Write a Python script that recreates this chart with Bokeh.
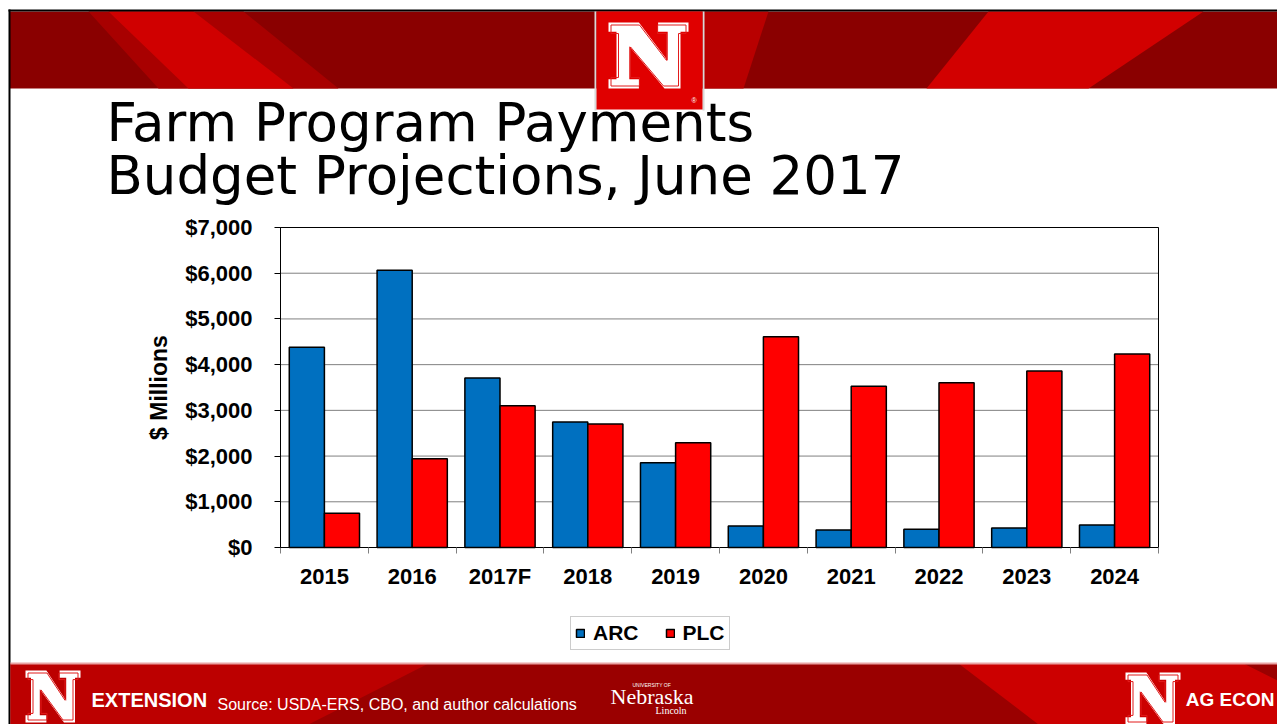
from bokeh.plotting import figure
from bokeh.models import (Range1d, LinearAxis, FixedTicker, SingleIntervalTicker,
                          NumeralTickFormatter, Legend, LegendItem, ColumnDataSource)
from bokeh.core.properties import value
from bokeh.transform import dodge
from bokeh.embed import file_html
from bokeh.resources import INLINE

# ---------------- data ----------------
years = ["2015", "2016", "2017F", "2018", "2019", "2020", "2021", "2022", "2023", "2024"]
arc = [4380, 6065, 3710, 2745, 1855, 470, 385, 400, 425, 490]
plc = [750, 1940, 3100, 2700, 2290, 4610, 3530, 3605, 3860, 4235]
series = ["ARC", "PLC"]
series_colors = ["#0070C0", "#FF0000"]
y_max = 7000
y_step = 1000
title_lines = ["Farm Program Payments", "Budget Projections, June 2017"]
y_label = "$ Millions"
source_note = "Source: USDA-ERS, CBO, and author calculations"

# ---------------- layout (pixels on the canvas) ----------------
W, H = 1277, 724
FL, FR, FT, FB = 280, 1158, 227, 547   # chart area edges
n_cat = len(years)
kx = (FR - FL) / n_cat
ky = (FB - FT) / y_max
CHART_FONT = "Liberation Sans"

p = figure(width=W, height=H,
           x_range=Range1d(-FL / kx, (W - FL) / kx),
           y_range=Range1d(-(H - FB) / ky, y_max + FT / ky),
           x_axis_location=None, y_axis_location=None,
           toolbar_location=None, output_backend="svg",
           min_border=0)
p.background_fill_color = "white"
p.border_fill_color = "white"
p.outline_line_color = None
p.grid.visible = False

p.extra_x_ranges = {"px": Range1d(0, W)}
p.extra_y_ranges = {"px": Range1d(H, 0)}
PX = dict(x_range_name="px", y_range_name="px")


def box(l, t, r, b, color):
    p.quad(left=l, right=r, top=t, bottom=b, fill_color=color, line_color=None, **PX)


def poly(pts, color, line_color=None, line_width=1):
    p.patch([q[0] for q in pts], [q[1] for q in pts], fill_color=color,
            fill_alpha=1 if color else 0, line_color=line_color, line_width=line_width, **PX)


N_SHAPE = [(0, 0), (0.38, 0), (0.74, 0.58), (0.74, 0.14), (0.62, 0.14), (0.62, 0), (1, 0),
           (1, 0.14), (0.90, 0.14), (0.90, 1), (0.70, 1), (0.26, 0.36), (0.26, 0.86),
           (0.38, 0.86), (0.38, 1), (0, 1), (0, 0.86), (0.10, 0.86), (0.10, 0.14), (0, 0.14)]


def n_logo(x0, y0, w, h, fill="white", inner="#E21B1B"):
    poly([(x0 + a * w, y0 + b * h) for a, b in N_SHAPE], fill)
    ix, iy = 2.5, 2.5
    poly([(x0 + ix + a * (w - 2 * ix), y0 + iy + b * (h - 2 * iy)) for a, b in N_SHAPE],
         None, line_color=inner, line_width=1)


def label(x, y, text, font, size, color, style="normal", align="left", baseline="alphabetic"):
    p.text(x=[x], y=[y], text=[text], text_font=value(font), text_font_size=value(size),
           text_color=color, text_font_style=style, text_align=align,
           text_baseline=baseline, **PX)


# ---------------- decorations ----------------
# top banner
box(9, 11, W, 88, "#8A0000")
poly([(88, 11), (243, 11), (338, 88), (158, 88)], "#A80000")
poly([(108, 11), (193, 11), (293, 88), (188, 88)], "#D00000")
poly([(702, 11), (768, 11), (743, 88), (702, 88)], "#B80000")
poly([(988, 11), (1203, 11), (1088, 88), (926, 88)], "#D20000")
box(8, 9, W, 11, "black")
box(8, 9, 10, H, "black")

# center logo
box(594, 11, 596, 110, "#D8D8D8")
box(702, 11, 704, 110, "#D8D8D8")
box(596, 11, 702, 109, "#E00000")
n_logo(608, 22, 80, 66)
label(691, 100, "\u00ae", "Liberation Sans", "7px", "white")

# title
label(106, 122, title_lines[0], "DejaVu Sans", "53px", "black")
label(106, 175, title_lines[1], "DejaVu Sans", "53px", "black")

# footer
box(10, 663, W, H, "#9A0000")
poly([(10, 663), (428, 663), (308, H), (10, H)], "#BC0000")
poly([(958, 663), (1243, 663), (W, 680), (W, H), (1038, H)], "#CC0000")
box(10, 662, W, 664, "#E9A3A3")
n_logo(25, 670, 55, 52)
n_logo(1125, 672, 55, 52)
label(91, 699, "EXTENSION", CHART_FONT, "20px", "white", style="bold")
label(217, 704, source_note, "Liberation Sans", "16px", "white")
label(632, 684, "UNIVERSITY OF", "Liberation Sans", "5px", "white")
label(610, 696, "Nebraska", "Liberation Serif", "22px", "white")
label(655, 710, "Lincoln", "Liberation Serif", "10px", "white")
label(1274, 699, "AG ECON", CHART_FONT, "19px", "white", style="bold", align="right")

# ---------------- chart ----------------
centers = [i + 0.5 for i in range(n_cat)]
grid_vals = list(range(0, y_max + 1, y_step))
p.segment(x0=[0] * len(grid_vals), x1=[n_cat] * len(grid_vals), y0=grid_vals, y1=grid_vals,
          line_color="#808080", line_width=1)

src = ColumnDataSource(dict(x=centers, year=years, ARC=arc, PLC=plc))
r1 = p.vbar(x=dodge("x", -0.2), top=series[0], width=0.4, source=src,
            fill_color=series_colors[0], line_color="black", line_width=1.5)
r2 = p.vbar(x=dodge("x", 0.2), top=series[1], width=0.4, source=src,
            fill_color=series_colors[1], line_color="black", line_width=1.5)

# plot-area frame
p.quad(left=[0], right=[n_cat], bottom=[0], top=[y_max], fill_color=None,
       line_color="black", line_width=1)

ya = LinearAxis(fixed_location=0, bounds=(0, y_max),
                ticker=SingleIntervalTicker(interval=y_step),
                formatter=NumeralTickFormatter(format="$0,0"),
                major_label_text_font=CHART_FONT, major_label_text_font_style="bold",
                major_label_text_font_size="22px", major_label_text_color="black",
                major_label_standoff=22, major_tick_in=0, major_tick_out=6,
                major_tick_line_color="black", minor_tick_line_color=None,
                axis_line_color="black",
                axis_label=y_label, axis_label_text_font=CHART_FONT,
                axis_label_text_font_style="bold", axis_label_text_font_size="23px",
                axis_label_text_color="black", axis_label_standoff=10)
p.add_layout(ya, "left")

edge_axis = LinearAxis(fixed_location=0, bounds=(0, n_cat),
                       ticker=FixedTicker(ticks=list(range(n_cat + 1))),
                       major_label_text_font_size="0px", major_label_text_color=None,
                       major_label_standoff=0, major_tick_in=0, major_tick_out=6,
                       major_tick_line_color="#808080", minor_tick_line_color=None,
                       axis_line_color="black")
p.add_layout(edge_axis, "below")
cat_axis = LinearAxis(fixed_location=0, bounds=(0, n_cat),
                      ticker=FixedTicker(ticks=centers),
                      major_label_overrides={c: y for c, y in zip(centers, years)},
                      axis_line_color=None, major_tick_line_color=None,
                      minor_tick_line_color=None, major_label_standoff=10,
                      major_label_text_font=CHART_FONT,
                      major_label_text_font_style="bold",
                      major_label_text_font_size="22px",
                      major_label_text_color="black")
p.add_layout(cat_axis, "below")

legend = Legend(items=[LegendItem(label=series[0], renderers=[r1]),
                       LegendItem(label=series[1], renderers=[r2])],
                location=(570, H - 650), orientation="horizontal",
                label_text_font=CHART_FONT, label_text_font_style="bold",
                label_text_font_size="21px", label_text_color="black",
                glyph_width=10, glyph_height=10,
                label_standoff=8, spacing=26, padding=4, margin=0,
                border_line_color="#9a9a9a", background_fill_alpha=1)
p.add_layout(legend, "center")

open("out.html", "w").write(file_html(p, INLINE))
